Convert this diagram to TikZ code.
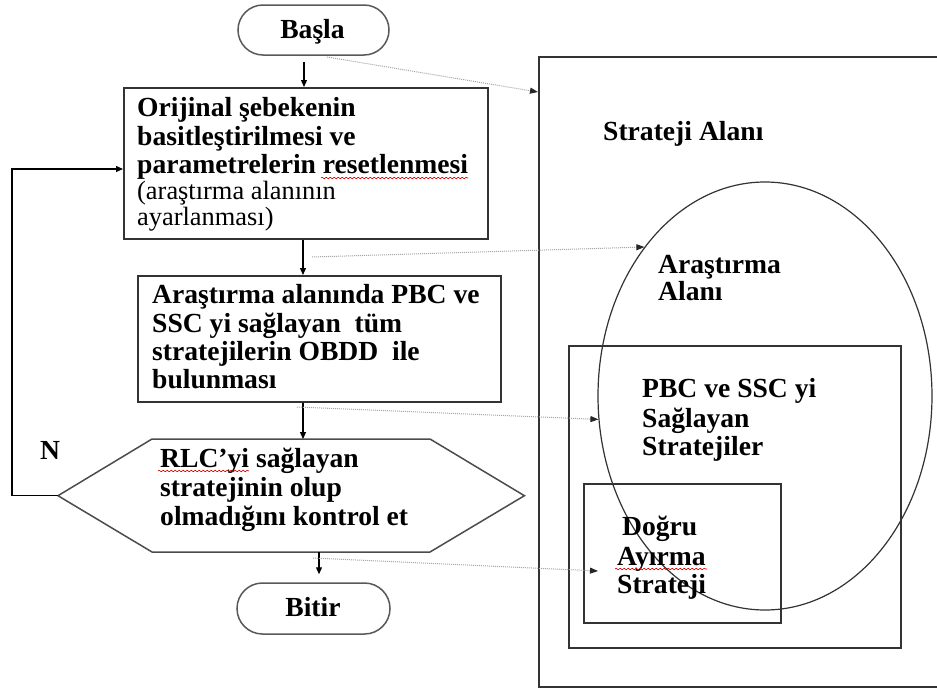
\documentclass[tikz,border=0pt]{standalone}
\usepackage{fontspec}
\setmainfont{Liberation Serif}
\usetikzlibrary{arrows.meta,shapes.misc,shapes.geometric,decorations.pathmorphing,calc}
\begin{document}
\begin{tikzpicture}[x=1pt,y=-1pt,
  box/.style={draw=black!80,line width=1.5pt,inner sep=0pt,anchor=north west},
  pill/.style={draw=black!65,line width=1.5pt,rounded rectangle,inner sep=0pt},
  tb/.style={anchor=base west,inner sep=0pt,font=\fontsize{27.6}{29}\selectfont\bfseries},
  tr/.style={anchor=base west,inner sep=0pt,font=\fontsize{26.4}{25}\selectfont},
  flow/.style={line width=1.2pt,-{Triangle[length=7pt,width=6pt]}},
  refarrow/.style={draw=black!35,line width=1pt,densely dotted,-{Triangle[length=8pt,width=6pt,color=black!85]}},
  squig/.style={draw=red!85!black,line width=0.6pt,decorate,decoration={snake,segment length=4pt,amplitude=0.8pt}}
]
\fill[white] (0,0) rectangle (937,688);
\useasboundingbox (0,0) rectangle (937,688);
\clip (0,0) rectangle (937,688);

% ---------- right side: strategy space ----------
\node[box,minimum width=430pt,minimum height=630pt] (strat) at (538,56) {};
\node[box,minimum width=332pt,minimum height=302pt] (pbc) at (568,345) {};
\node[box,minimum width=197pt,minimum height=139pt] (dogru) at (583,483) {};
\node[draw=black!80,line width=1.2pt,ellipse,minimum width=334pt,minimum height=428pt,inner sep=0pt] (arast) at (765,396) {};

\node[tb] (tstrat) at (603,140) {Strateji Alanı};
\node[tb] (tar1) at (658,273) {Araştırma};
\node[tb] (tar2) at (658,300) {Alanı};
\node[tb] (tp1) at (642,397) {PBC ve SSC yi};
\node[tb] (tp2) at (642,427) {Sağlayan};
\node[tb] (tp3) at (642,455) {Stratejiler};
\node[tb] (td1) at (622,535) {Doğru};
\node[tb] (td2) at (617,565) {Ayırma};
\node[tb] (td3) at (617,593) {Strateji};

% ---------- flowchart ----------
\node[pill,minimum width=151pt,minimum height=50pt] (basla) at (313.5,30) {};
\node[tb,anchor=base] (tbasla) at (312.5,38) {Başla};

\node[box,minimum width=364pt,minimum height=151pt] (b1) at (123,87) {};
\node[tb] (t11) at (137,116) {Orijinal şebekenin};
\node[tb] (t12) at (137,145) {basitleştirilmesi ve};
\node[tb] (t13) at (137,173) {parametrelerin resetlenmesi};
\node[tr] (t14) at (137,199) {(araştırma alanının};
\node[tr] (t15) at (137,225) {ayarlanması)};

\node[box,minimum width=363pt,minimum height=126pt] (b2) at (137,275) {};
\node[tb] (t21) at (152,303) {Araştırma alanında PBC ve};
\node[tb] (t22) at (152,332) {SSC yi sağlayan\ \ tüm};
\node[tb] (t23) at (152,360) {stratejilerin OBDD\ \ ile};
\node[tb] (t24) at (152,388) {bulunması};

\node[inner sep=0pt,minimum width=466pt,minimum height=113pt,anchor=north west] (hex) at (58,439) {};
\draw[draw=black!70,line width=1.5pt] (hex.west) -- (152,439) -- (430,439) -- (hex.east) -- (430,552) -- (152,552) -- cycle;
\node[tb] (t31) at (160,467) {RLC’yi sağlayan};
\node[tb] (t32) at (160,496) {stratejinin olup};
\node[tb] (t33) at (160,525) {olmadığını kontrol et};

\node[pill,minimum width=153pt,minimum height=51pt] (bitir) at (313.5,608.5) {};
\node[tb,anchor=base] (tbitir) at (313,616) {Bitir};

\node[tb,anchor=base] (nlabel) at (50,459) {N};

% spell-check underlines
\draw[squig] (321,178) -- (468,178);
\draw[squig] (158,471) -- (249,471);
\draw[squig] (615,569) -- (707,569);

% flow connectors
\coordinate (c1) at (304,0);
\coordinate (c2) at (303,0);
\coordinate (c4) at (319,0);
\coordinate (lp) at (12,169);
\draw[flow] ($(basla.south -| c1)+(0,6)$) -- (b1.north -| c1);
\draw[flow] (b1.south -| c2) -- (b2.north -| c2);
\draw[flow] (b2.south -| c2) -- (hex.north -| c2);
\draw[flow] (hex.south -| c4) -- ($(bitir.north -| c4)+(0,-8)$);
\draw[flow] (hex.west) -| (lp) -- (lp -| b1.west);

% dotted reference arrows
\coordinate (r1) at (327,57);
\coordinate (y1) at (0,92);
\coordinate (r2) at (312,257);
\coordinate (r3) at (297,407);
\coordinate (r4) at (313,558);
\coordinate (e4) at (598,571);
\draw[refarrow] (r1) -- (strat.west |- y1);
\draw[refarrow] (r2) -- (arast.129);
\draw[refarrow] (r3) -- (arast.188);
\draw[refarrow] (r4) -- (e4);
\end{tikzpicture}
\end{document}
